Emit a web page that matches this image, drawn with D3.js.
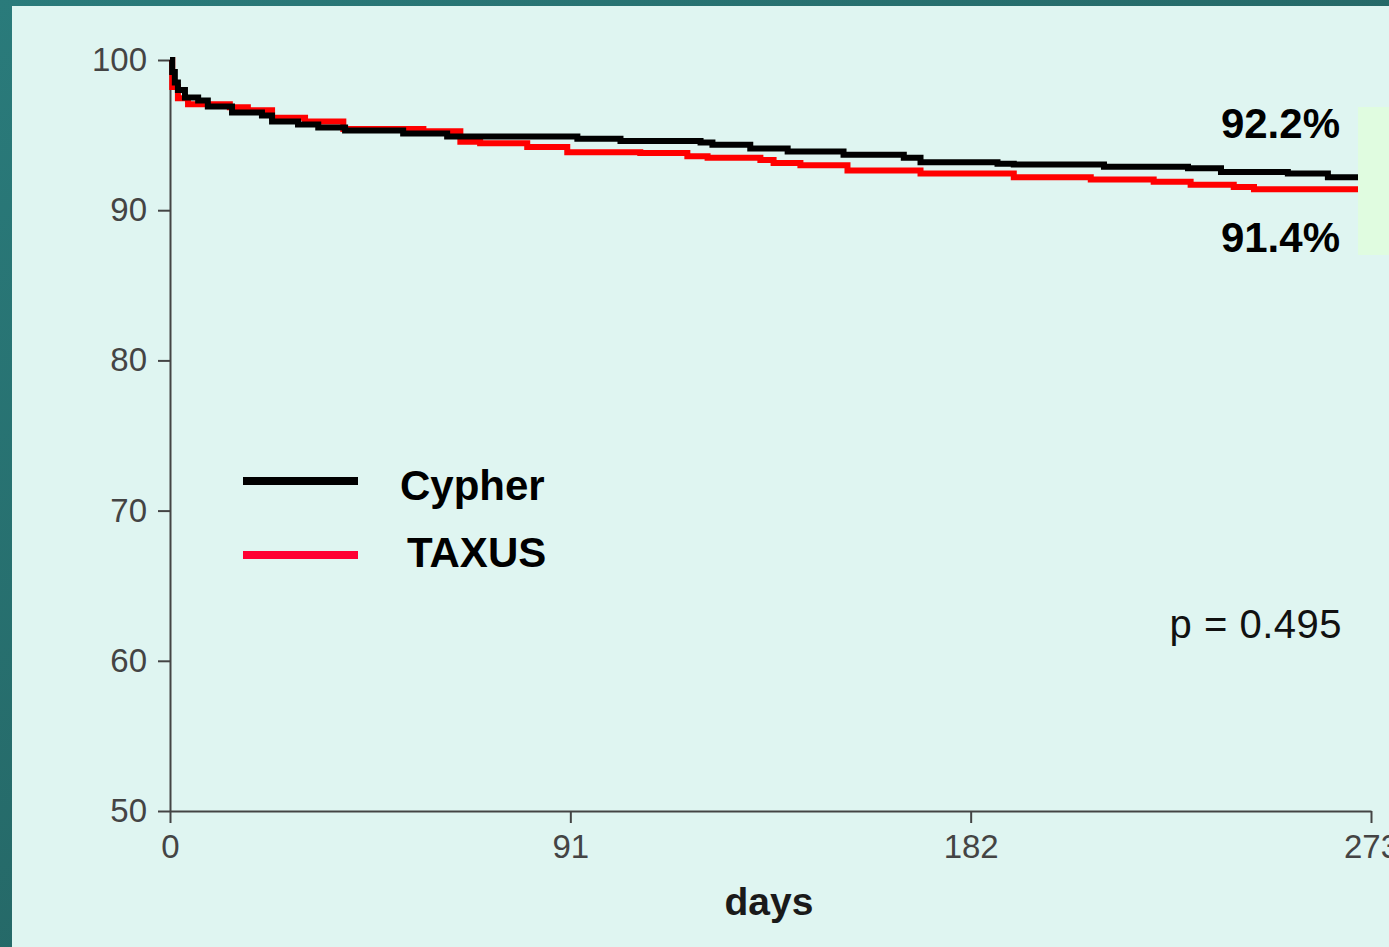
<!DOCTYPE html>
<html>
<head>
<meta charset="utf-8">
<script src="https://cdn.jsdelivr.net/npm/d3@7/dist/d3.min.js"></script>
<style>
  html, body { margin: 0; padding: 0; background: #dff5f1; }
  svg { display: block; }
</style>
</head>
<body>
<div id="chart"></div>
<script>
"use strict";

// survival curves (days, % event free)
const cypherDays = [0, 0.5, 1.1, 1.8, 3.4, 6.4, 8.6, 14.1, 20.9, 23.2, 29.1, 33.7, 39.8, 53.0, 63.0, 92.6, 102.4, 120.6, 123.3, 131.9, 140.4, 153.1, 166.8, 170.6, 188.1, 191.8, 212.3, 231.4, 238.9, 254.1, 263.2, 273];
const cypherSurv = [100, 99.2, 98.5, 98.0, 97.5, 97.3, 96.9, 96.5, 96.3, 95.9, 95.7, 95.5, 95.3, 95.1, 94.9, 94.75, 94.6, 94.5, 94.35, 94.1, 93.9, 93.7, 93.5, 93.2, 93.1, 93.05, 92.9, 92.8, 92.55, 92.45, 92.2, 92.2];

const taxusDays = [0, 0.5, 1.8, 4.1, 13.6, 17.7, 23.2, 30.7, 39.4, 57.6, 66.0, 70.5, 81.2, 90.3, 106.9, 117.6, 122.2, 134.2, 137.2, 143.3, 154.0, 170.6, 191.8, 209.3, 223.6, 232.0, 241.8, 246.4, 273];
const taxusSurv = [100, 98.2, 97.45, 97.05, 96.85, 96.65, 96.15, 95.9, 95.4, 95.25, 94.55, 94.45, 94.2, 93.85, 93.8, 93.6, 93.5, 93.35, 93.15, 93.0, 92.65, 92.45, 92.2, 92.05, 91.9, 91.7, 91.55, 91.4, 91.4];

const xTicks = [0, 91, 182, 273];
const yTicks = [50, 60, 70, 80, 90, 100];
const seriesNames = ["Cypher", "TAXUS"];
const endLabels = ["92.2%", "91.4%"];
const pLabel = "p = 0.495";
const xTitle = "days";

const W = 1389, H = 947;

const svg = d3.select("#chart").append("svg")
  .attr("width", W).attr("height", H);

// frame: teal slide border on top + left
const defs = svg.append("defs");
const grad = defs.append("linearGradient").attr("id", "teal")
  .attr("x1", 0).attr("y1", 0).attr("x2", 1).attr("y2", 1);
grad.append("stop").attr("offset", 0).attr("stop-color", "#2a7b7b");
grad.append("stop").attr("offset", 1).attr("stop-color", "#215856");

svg.append("rect").attr("width", W).attr("height", H).attr("fill", "url(#teal)");
svg.append("rect").attr("x", 12).attr("y", 6).attr("width", W - 12).attr("height", H - 6)
  .attr("fill", "#dff5f1");

const x = d3.scaleLinear().domain([0, 273]).range([170, 1371]);
const y = d3.scaleLinear().domain([50, 100]).range([811, 60]);

const axisColor = "#444";
const tickFont = "'Liberation Sans', Arial, sans-serif";

const gy = svg.append("g").attr("transform", `translate(${x(0)},0)`)
  .call(d3.axisLeft(y).tickValues(yTicks).tickSize(12).tickSizeOuter(0).tickPadding(11));
const gx = svg.append("g").attr("transform", `translate(0,${y(50)})`)
  .call(d3.axisBottom(x).tickValues(xTicks).tickSize(12).tickSizeOuter(0).tickPadding(12));

[gx, gy].forEach(g => {
  g.select(".domain").attr("stroke", axisColor).attr("stroke-width", 2);
  g.selectAll(".tick line").attr("stroke", axisColor).attr("stroke-width", 2);
  g.selectAll(".tick text").attr("fill", "#444")
    .attr("font-family", tickFont).attr("font-size", 33);
});

// km curves
const line = d3.line()
  .x(d => x(d[0])).y(d => y(d[1]))
  .curve(d3.curveStepAfter);

const taxus = d3.zip(taxusDays, taxusSurv);
const cypher = d3.zip(cypherDays, cypherSurv);

svg.append("path").datum(taxus).attr("d", line)
  .attr("fill", "none").attr("stroke", "#ff0000").attr("stroke-width", 6);
svg.append("path").datum(cypher).attr("d", line)
  .attr("fill", "none").attr("stroke", "#000").attr("stroke-width", 6);

// light green box at right edge
svg.append("rect").attr("x", 1358).attr("y", 107).attr("width", W - 1358).attr("height", 148)
  .attr("fill", "#e0fce0");

const boldFont = "'Liberation Sans', Arial, sans-serif";

// end values
svg.selectAll("text.endval").data(endLabels).join("text")
  .attr("class", "endval")
  .attr("x", 1340).attr("y", (d, i) => i == 0 ? 138 : 252)
  .attr("text-anchor", "end")
  .attr("font-family", boldFont).attr("font-weight", "bold").attr("font-size", 42)
  .attr("fill", "#000").text(d => d);

// legend
const legColors = ["#000", "#ff0033"];
const leg = svg.append("g");
leg.selectAll("line").data(seriesNames).join("line")
  .attr("x1", 243).attr("x2", 358)
  .attr("y1", (d, i) => i == 0 ? 481 : 555).attr("y2", (d, i) => i == 0 ? 481 : 555)
  .attr("stroke", (d, i) => legColors[i]).attr("stroke-width", 8);
leg.selectAll("text").data(seriesNames).join("text")
  .attr("x", (d, i) => i == 0 ? 400 : 407)
  .attr("y", (d, i) => i == 0 ? 500 : 567)
  .attr("font-family", boldFont).attr("font-weight", "bold").attr("font-size", 42)
  .attr("fill", "#000").text(d => d);

svg.append("text").attr("x", 1342).attr("y", 638).attr("text-anchor", "end")
  .attr("font-family", boldFont).attr("font-size", 40).attr("letter-spacing", 0.5)
  .attr("fill", "#111")
  .text(pLabel);

svg.append("text").attr("x", 769).attr("y", 915).attr("text-anchor", "middle")
  .attr("font-family", boldFont).attr("font-weight", "bold").attr("font-size", 39)
  .attr("fill", "#1a1a1a").text(xTitle);
</script>
</body>
</html>
